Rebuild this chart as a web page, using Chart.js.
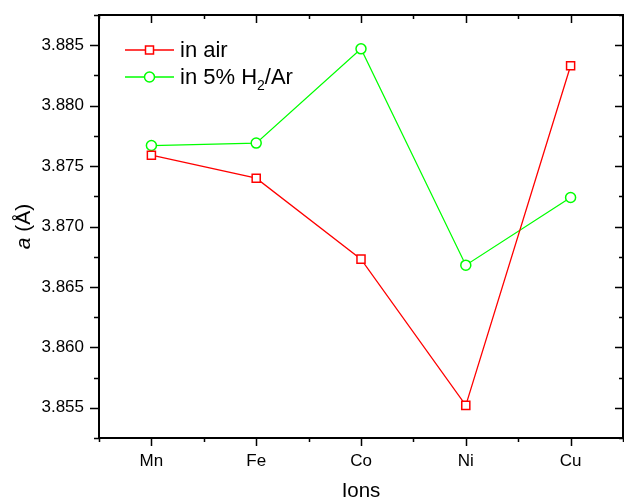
<!DOCTYPE html>
<html>
<head>
<meta charset="utf-8">
<script src="https://cdn.jsdelivr.net/npm/chart.js@4.4.1/dist/chart.umd.min.js"></script>
<style>
  html, body { margin: 0; padding: 0; background: #fff; }
  #wrap { width: 624px; height: 501px; }
</style>
</head>
<body>
<div id="wrap"><canvas id="latticeChart" width="624" height="501"></canvas></div>
<script>
const ions = ["Mn", "Fe", "Co", "Ni", "Cu"];
const inAir = [3.8759, 3.8740, 3.8673, 3.8552, 3.8833];
const inH2Ar = [3.8767, 3.8769, 3.8847, 3.8668, 3.8724];
const yTicks = [3.855, 3.860, 3.865, 3.870, 3.875, 3.880, 3.885];
const yMin = 3.8525, yMax = 3.8875;

const FONT = "'Liberation Sans', Arial, sans-serif";

// frame, minor ticks, mirrored ticks, legend and axis titles
const framePlugin = {
    id: "frame",
    afterDraw(chart) {
        const ctx = chart.ctx;
        const a = chart.chartArea;
        const xs = chart.scales.x, ys = chart.scales.y;
        ctx.save();
        ctx.strokeStyle = "#000";
        ctx.lineWidth = 1.5;

        // major ticks: left/bottom outward, top/right inward
        yTicks.forEach(v => {
            const y = Math.round(ys.getPixelForValue(v)) + 0.5;
            ctx.beginPath();
            ctx.moveTo(a.left - 9, y); ctx.lineTo(a.left, y);
            ctx.moveTo(a.right - 8, y); ctx.lineTo(a.right, y);
            ctx.stroke();
        });
        for (let v = yMin; v <= yMax + 1e-9; v += 0.005) {
            const y = Math.round(ys.getPixelForValue(v)) + 0.5;
            ctx.beginPath();
            ctx.moveTo(a.left - 5, y); ctx.lineTo(a.left, y);
            ctx.moveTo(a.right - 4, y); ctx.lineTo(a.right, y);
            ctx.stroke();
        }
        ions.forEach((c, i) => {
            const x = Math.round(xs.getPixelForValue(i)) + 0.5;
            ctx.beginPath();
            ctx.moveTo(x, a.bottom); ctx.lineTo(x, a.bottom + 8);
            ctx.moveTo(x, a.top); ctx.lineTo(x, a.top + 8);
            ctx.stroke();
        });
        for (let i = -0.5; i <= ions.length - 0.5; i += 1) {
            const x = Math.round(xs.getPixelForValue(i)) + 0.5;
            ctx.beginPath();
            ctx.moveTo(x, a.bottom); ctx.lineTo(x, a.bottom + 4);
            ctx.moveTo(x, a.top); ctx.lineTo(x, a.top + 4);
            ctx.stroke();
        }

        // frame
        ctx.lineWidth = 2;
        ctx.strokeRect(a.left, a.top, a.right - a.left, a.bottom - a.top);

        // legend
        const ds = chart.data.datasets;
        ctx.textBaseline = "middle";
        ds.forEach((d, i) => {
            const y = 50 + i * 27;
            ctx.strokeStyle = d.borderColor;
            ctx.lineWidth = 1.3;
            ctx.beginPath();
            ctx.moveTo(125, y); ctx.lineTo(174, y);
            ctx.stroke();
            ctx.lineWidth = 1.5;
            ctx.fillStyle = "#fff";
            ctx.beginPath();
            if (d.pointStyle === "rect") {
                ctx.rect(145.5, y - 4, 8, 8);
            } else {
                ctx.arc(149.5, y, 5, 0, Math.PI * 2);
            }
            ctx.fill();
            ctx.stroke();
        });
        ctx.fillStyle = "#000";
        ctx.textAlign = "left";
        ctx.font = "22px " + FONT;
        ctx.fillText("in air", 180, 51);
        let x = 180;
        const y2 = 78;
        ctx.fillText("in 5% H", x, y2);
        x += ctx.measureText("in 5% H").width;
        ctx.font = "14px " + FONT;
        ctx.fillText("2", x, y2 + 8);
        x += ctx.measureText("2").width;
        ctx.font = "22px " + FONT;
        ctx.fillText("/Ar", x, y2);

        // x axis title
        ctx.font = "20.5px " + FONT;
        ctx.textAlign = "center";
        ctx.fillText("Ions", (a.left + a.right) / 2, 491);

        // y axis title
        ctx.translate(24, (a.top + a.bottom) / 2);
        ctx.rotate(-Math.PI / 2);
        ctx.font = "italic 21px " + FONT;
        const w1 = ctx.measureText("a").width;
        ctx.font = "21px " + FONT;
        const w2 = ctx.measureText(" (Å)").width;
        ctx.textAlign = "left";
        ctx.font = "italic 21px " + FONT;
        ctx.fillText("a", -(w1 + w2) / 2, 0);
        ctx.font = "21px " + FONT;
        ctx.fillText(" (Å)", -(w1 + w2) / 2 + w1, 0);
        ctx.restore();
    }
};

const ctx = document.getElementById("latticeChart").getContext("2d");
const chart = new Chart(ctx, {
    type: "line",
    data: {
        labels: ions,
        datasets: [{
            label: "in air",
            data: inAir,
            borderColor: "#ff0000",
            backgroundColor: "#ffffff",
            borderWidth: 1.3,
            pointStyle: "rect",
            pointRadius: 5.7,
            pointBorderWidth: 1.5,
            tension: 0
        }, {
            label: "in 5% H2/Ar",
            data: inH2Ar,
            borderColor: "#00ff00",
            backgroundColor: "#ffffff",
            borderWidth: 1.3,
            pointStyle: "circle",
            pointRadius: 5,
            pointBorderWidth: 1.5,
            tension: 0
        }]
    },
    options: {
        responsive: false,
        animation: false,
        layout: { autoPadding: false, padding: { top: 15, right: 1, left: 0, bottom: 0 } },
        plugins: {
            legend: { display: false },
            tooltip: { enabled: false }
        },
        scales: {
            x: {
                type: "category",
                offset: true,
                grid: { display: true, drawOnChartArea: false, drawTicks: true, tickLength: 8, color: "rgba(0,0,0,0)", offset: false },
                border: { display: false },
                ticks: { color: "#000", font: { family: FONT, size: 17 }, padding: 5, maxRotation: 0 },
                afterFit(scale) {
                    scale.height = 63;
                    scale.paddingLeft = 0;
                    scale.paddingRight = 0;
                }
            },
            y: {
                min: yMin,
                max: yMax,
                grid: { display: true, drawOnChartArea: false, drawTicks: true, tickLength: 9, color: "rgba(0,0,0,0)" },
                border: { display: false },
                ticks: {
                    color: "#000",
                    font: { family: FONT, size: 17 },
                    padding: 6,
                    callback: v => v.toFixed(3)
                },
                afterBuildTicks(scale) { scale.ticks = yTicks.map(v => ({ value: v })); },
                afterFit(scale) {
                    scale.width = 99;
                    scale.paddingTop = 0;
                    scale.paddingBottom = 0;
                }
            }
        }
    },
    plugins: [framePlugin]
});
</script>
</body>
</html>
